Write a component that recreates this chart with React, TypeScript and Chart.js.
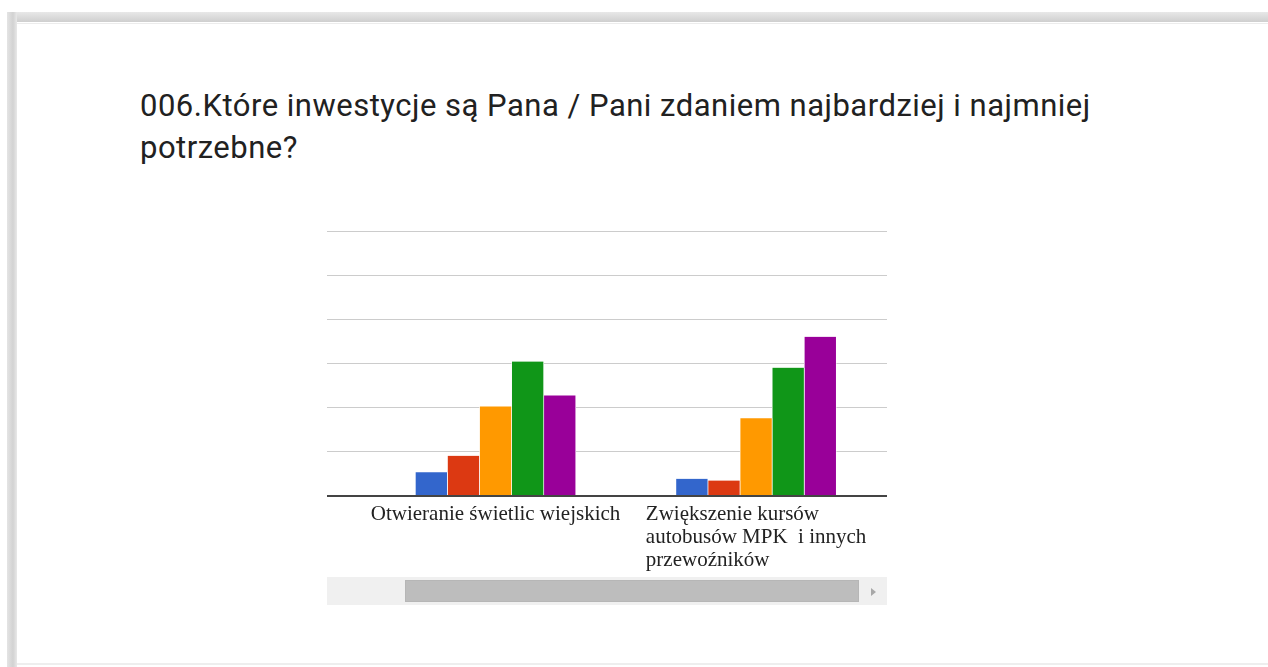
import React, { useEffect, useRef } from "react";
import { Chart, registerables } from "chart.js";

Chart.register(...registerables);

// ---- data ----
const title = "006.Które inwestycje są Pana / Pani zdaniem najbardziej i najmniej potrzebne?";
const categories: string[][] = [
  ["Otwieranie świetlic wiejskich"],
  ["Zwiększenie kursów", "autobusów MPK  i innych", "przewoźników"],
];
const seriesNames = ["1", "2", "3", "4", "5"];
const series1 = [5.3, 3.8];
const series2 = [9.0, 3.4];
const series3 = [20.2, 17.5];
const series4 = [30.4, 29.0];
const series5 = [22.7, 36.0];
const yTicks = [0, 10, 20, 30, 40, 50, 60];
const seriesColors = ["#3366cc", "#dc3912", "#ff9900", "#109618", "#990099"];

const allSeries = [series1, series2, series3, series4, series5];

const labelPlugin = {
  id: "catLabels",
  afterDraw(chart: any) {
    const ctx = chart.ctx;
    const xs = chart.scales.x;
    const bottom = chart.chartArea.bottom;
    ctx.save();
    ctx.font = '21px "Liberation Serif"';
    ctx.fillStyle = "#222222";
    ctx.textAlign = "left";
    ctx.textBaseline = "alphabetic";
    categories.forEach((lines, i) => {
      const cx = xs.getPixelForValue(i);
      const w = Math.max(...lines.map((l) => ctx.measureText(l).width));
      const left = cx - w / 2;
      lines.forEach((l, j) => ctx.fillText(l, left, bottom + 24 + j * 23.3));
    });
    ctx.restore();
  },
};

function BarChart() {
  const ref = useRef<HTMLCanvasElement>(null);
  useEffect(() => {
    if (!ref.current) return;
    const chart = new Chart(ref.current, {
      type: "bar",
      data: {
        datasets: allSeries.map((s, k) => ({
          label: seriesNames[k],
          data: s.map((v, i) => ({ x: i, y: v })),
          backgroundColor: seriesColors[k],
          borderColor: "#ffffff",
          borderWidth: { left: 0.7, right: 0.7, top: 0, bottom: 0 },
          borderSkipped: false,
          barThickness: 32.1,
        })),
      },
      options: {
        responsive: false,
        animation: false,
        events: [],
        layout: { padding: { top: 11, bottom: 84.5, left: 0, right: 0 } },
        plugins: { legend: { display: false }, tooltip: { enabled: false } },
        scales: {
          x: {
            type: "linear",
            offset: false,
            min: -0.647,
            max: 1.5025,
            grid: { display: false, drawTicks: false },
            ticks: { display: false },
            border: { display: true, color: "#444444", width: 2 },
          },
          y: {
            min: yTicks[0],
            max: yTicks[yTicks.length - 1],
            afterBuildTicks: (scale: any) => {
              scale.ticks = yTicks.map((v) => ({ value: v }));
            },
            grid: { color: "#cccccc", lineWidth: 1, drawTicks: false },
            ticks: { display: false },
            border: { display: false },
          },
        },
      } as any,
      plugins: [labelPlugin],
    });
    return () => chart.destroy();
  }, []);
  return (
    <canvas
      ref={ref}
      width={560}
      height={360}
      style={{ position: "absolute", left: 327, top: 220, width: 560, height: 360 }}
    />
  );
}

export default function App() {
  return (
    <div
      style={{
        position: "fixed",
        left: 0,
        top: 0,
        width: 1268,
        height: 667,
        background: "#ffffff",
        overflow: "hidden",
      }}
    >
      {/* frame */}
      <div
        style={{
          position: "absolute",
          left: 7,
          top: 12,
          width: 10,
          height: 655,
          background: "linear-gradient(to right, #e4e4e4, #d2d2d2 60%, #e8e8e8)",
        }}
      />
      <div
        style={{
          position: "absolute",
          left: 17,
          top: 12,
          width: 1251,
          height: 10,
          background: "linear-gradient(to bottom, #e8e8e8, #cfcfcf)",
        }}
      />
      <div
        style={{ position: "absolute", left: 17, top: 23, width: 1251, height: 1, background: "#ececec" }}
      />
      <div
        style={{ position: "absolute", left: 17, top: 663, width: 1251, height: 2, background: "#eeeeee" }}
      />
      {/* title */}
      <div
        style={{
          position: "absolute",
          left: 140,
          top: 85,
          width: 1000,
          fontFamily: "Roboto",
          fontSize: 31,
          letterSpacing: "0.5px",
          lineHeight: "42px",
          color: "#212121",
        }}
      >
        {title}
      </div>
      <BarChart />
      {/* scrollbar */}
      <div
        style={{
          position: "absolute",
          left: 327,
          top: 577,
          width: 560,
          height: 28,
          background: "#f0f0f0",
        }}
      />
      <div
        style={{
          position: "absolute",
          left: 405,
          top: 580,
          width: 454,
          height: 22,
          background: "#bdbdbd",
          boxSizing: "border-box",
          border: "1px solid #b6b6b6",
        }}
      />
      <div
        style={{
          position: "absolute",
          left: 871,
          top: 588,
          width: 0,
          height: 0,
          borderTop: "4px solid transparent",
          borderBottom: "4px solid transparent",
          borderLeft: "5px solid #a8a8a8",
        }}
      />
    </div>
  );
}
